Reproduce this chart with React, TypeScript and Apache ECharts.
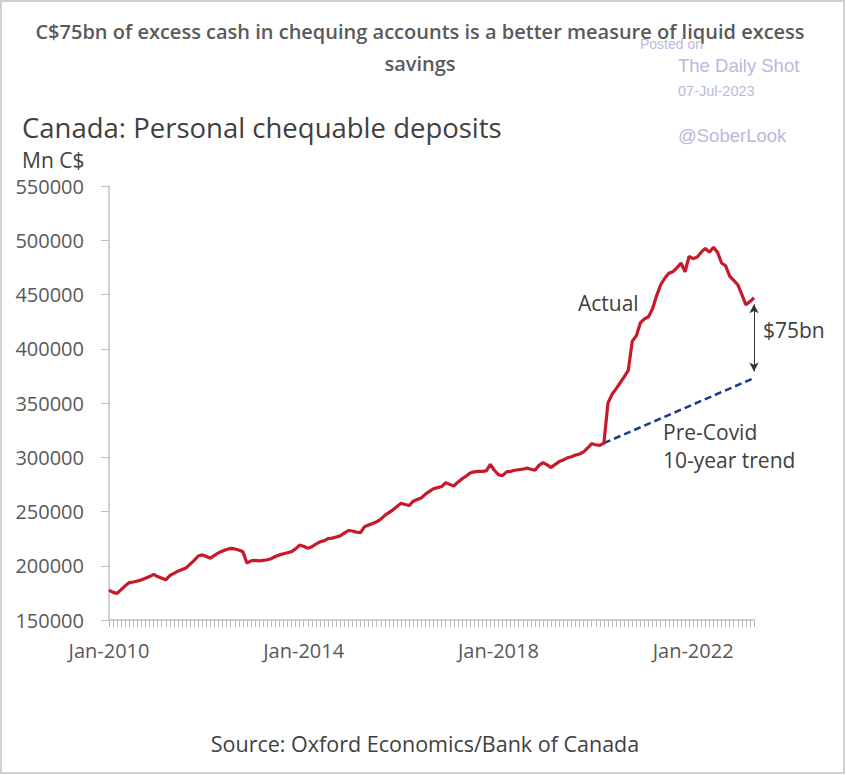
import React, { useEffect, useRef } from "react";
import * as echarts from "echarts";

const monthNames = ["Jan", "Feb", "Mar", "Apr", "May", "Jun", "Jul", "Aug", "Sep", "Oct", "Nov", "Dec"];
const startYear = 2010;
const monthCount = 160;
const categories: string[] = Array.from({ length: monthCount }, (_, i) => `${monthNames[i % 12]}-${startYear + Math.floor(i / 12)}`);

const yTicks = [150000, 550000, 50000];

const actual: number[] = [
  177500, 175500, 174500, 178000, 181500, 184500, 185000, 186000, 187000, 188500, 190000, 192000,
  190000, 188500, 187000, 191000, 193000, 195000, 196500, 198000, 201500, 205000, 209000, 210000,
  208500, 207000, 209500, 212000, 213500, 215000, 216000, 215500, 214500, 213000, 202500, 204500,
  205000, 204500, 205000, 205500, 206500, 208500, 210000, 211000, 212000, 213000, 215500, 219000,
  218000, 216000, 217500, 220000, 222000, 223000, 225000, 225500, 226500, 227500, 230000, 232500,
  232000, 231000, 230500, 236000, 237500, 239000, 240500, 243000, 246500, 249000, 251500, 254500,
  257500, 256500, 255500, 259500, 261000, 262500, 266000, 268500, 271000, 272000, 273000, 276500,
  275000, 273500, 277000, 280000, 282500, 285500, 286500, 287000, 287000, 287500, 293500, 288000,
  284000, 283000, 286500, 287000, 288000, 288500, 289000, 290000, 289000, 288000, 292500, 295000,
  293000, 290500, 293500, 296000, 297500, 299500, 300500, 302000, 303000, 305000, 308500, 312500,
  311500, 311000, 313000, 350000, 358000, 363000, 368500, 374000, 380000, 407000, 412000, 424000,
  427500, 429500, 437000, 449000, 459000, 465000, 469500, 471000, 474500, 479000, 471000, 485000,
  483000, 484500, 489000, 492500, 489000, 493500, 489000, 479000, 476500, 467000, 463000, 459000,
  450000, 440500, 443500, 447000,
];

const trendStartIndex = 122;
const trendStartValue = 313000;
const trendEndIndex = 159;
const trendEndValue = 373000;
const gapTop = 441000;
const gapBottom = 379000;

const xLabelEvery = 48;

export default function App() {
  const ref = useRef<HTMLDivElement>(null);
  useEffect(() => {
    if (!ref.current) return;
    const chart = echarts.init(ref.current, undefined, { renderer: "svg" });
    const trend = categories.map((_, i) =>
      i === trendStartIndex ? trendStartValue : i === trendEndIndex ? trendEndValue : null
    );
    const textColor = "#404040";
    const wm = "#b9b9dc";
    chart.setOption({
      animation: false,
      backgroundColor: "#ffffff",
      grid: { left: 109, right: 92, top: 186, bottom: 155, containLabel: false },
      xAxis: {
        type: "category",
        data: categories,
        boundaryGap: false,
        axisLine: { lineStyle: { color: "#bfbfbf", width: 1.5 } },
        axisTick: { interval: 0, length: 7, lineStyle: { color: "#bdbdbd" } },
        axisLabel: {
          interval: (i: number) => i % xLabelEvery === 0,
          color: "#595959",
          fontSize: 20,
          fontFamily: "Open Sans",
          margin: 20,
        },
        splitLine: { show: false },
      },
      yAxis: {
        type: "value",
        min: yTicks[0],
        max: yTicks[1],
        interval: yTicks[2],
        axisLine: { show: true, lineStyle: { color: "#bfbfbf", width: 1.5 } },
        axisTick: { show: true, length: 8, lineStyle: { color: "#bfbfbf" } },
        axisLabel: {
          color: "#595959",
          fontSize: 20,
          fontFamily: "Open Sans",
          margin: 25,
          formatter: (v: number) => String(v),
        },
        splitLine: { show: false },
      },
      series: [
        {
          type: "line",
          data: actual,
          symbol: "none",
          lineStyle: { color: "#C8192B", width: 3.2 },
          z: 3,
        },
        {
          type: "line",
          data: trend,
          connectNulls: true,
          symbol: "none",
          lineStyle: { color: "#1F3A8A", width: 2.5, type: [7, 4] },
          z: 2,
          markLine: {
            silent: true,
            symbol: ["arrow", "arrow"],
            symbolSize: [7, 9],
            label: { show: false },
            lineStyle: { color: "#333333", width: 1, type: "solid" },
            data: [[{ coord: [trendEndIndex, gapTop] }, { coord: [trendEndIndex, gapBottom] }]],
          },
        },
      ],
      graphic: [
        { type: "rect", shape: { x: 1, y: 1, width: 843, height: 772 }, style: { fill: "none", stroke: "#cfcfcf", lineWidth: 2 } },
        { type: "text", x: 420, y: 31, style: { text: "C$75bn of excess cash in chequing accounts is a better measure of liquid excess", fill: "#5a5a5a", font: "600 20px 'Open Sans'", align: "center", verticalAlign: "middle" } },
        { type: "text", x: 420, y: 63, style: { text: "savings", fill: "#5a5a5a", font: "600 20px 'Open Sans'", align: "center", verticalAlign: "middle" } },
        { type: "text", x: 640, y: 44, style: { text: "Posted on", fill: wm, font: "14px 'Liberation Sans'", verticalAlign: "middle" } },
        { type: "text", x: 678, y: 65, style: { text: "The Daily Shot", fill: wm, font: "18.5px 'Liberation Sans'", verticalAlign: "middle" } },
        { type: "text", x: 678, y: 91, style: { text: "07-Jul-2023", fill: wm, font: "14.5px 'Liberation Sans'", verticalAlign: "middle" } },
        { type: "text", x: 678, y: 135, style: { text: "@SoberLook", fill: wm, font: "18.5px 'Liberation Sans'", verticalAlign: "middle" } },
        { type: "text", x: 22, y: 127, style: { text: "Canada: Personal chequable deposits", fill: textColor, font: "27.5px 'Open Sans'", verticalAlign: "middle" } },
        { type: "text", x: 22, y: 160, style: { text: "Mn C$", fill: textColor, font: "21px 'Open Sans'", verticalAlign: "middle" } },
        { type: "text", x: 578, y: 303, style: { text: "Actual", fill: textColor, font: "21px 'Open Sans'", verticalAlign: "middle" } },
        { type: "text", x: 763, y: 330, style: { text: "$75bn", fill: textColor, font: "21px 'Open Sans'", verticalAlign: "middle" } },
        { type: "text", x: 663, y: 432, style: { text: "Pre-Covid", fill: textColor, font: "21px 'Open Sans'", verticalAlign: "middle" } },
        { type: "text", x: 663, y: 460, style: { text: "10-year trend", fill: textColor, font: "21px 'Open Sans'", verticalAlign: "middle" } },
        { type: "text", x: 425, y: 743, style: { text: "Source: Oxford Economics/Bank of Canada", fill: textColor, font: "21.5px 'Open Sans'", align: "center", verticalAlign: "middle" } },
      ],
    });
    return () => chart.dispose();
  }, []);
  return <div ref={ref} style={{ position: "fixed", left: 0, top: 0, width: 846, height: 775 }} />;
}
